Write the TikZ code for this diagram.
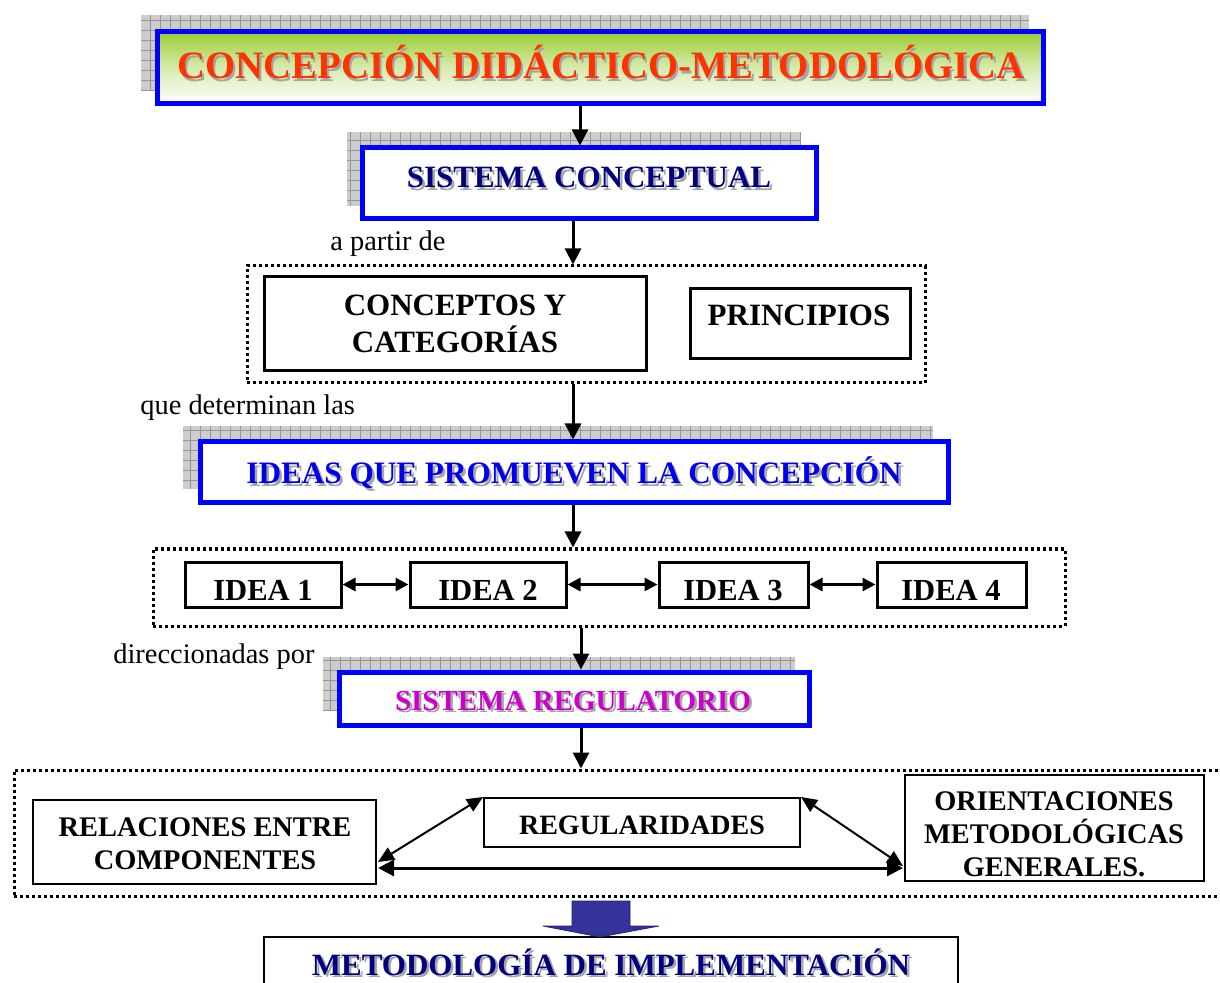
\documentclass[tikz,border=0pt]{standalone}
\usepackage{fontspec}
\setmainfont{Liberation Serif}
\usetikzlibrary{arrows.meta,calc,fit}
\definecolor{titlered}{RGB}{255,51,0}
\definecolor{titlegreen}{RGB}{154,205,50}
\definecolor{navytext}{RGB}{0,0,128}
\definecolor{ideablue}{RGB}{0,0,235}
\definecolor{regmag}{RGB}{204,0,204}
\definecolor{boxblue}{RGB}{0,0,255}
\definecolor{blockblue}{RGB}{51,51,153}
\definecolor{shadowgray}{RGB}{165,165,165}
\definecolor{gridfill}{RGB}{205,205,205}
\definecolor{gridline}{RGB}{150,150,150}
\tikzset{
  bluebox/.style={draw=boxblue, line width=2.5pt, inner sep=0pt, fill=white},
  blackbox/.style={draw=black, line width=1.5pt, inner sep=0pt, fill=white},
  thinbox/.style={draw=black, line width=1pt, inner sep=0pt, fill=white},
  dotbox/.style={draw=black, line width=1.5pt, dash pattern=on 1.5pt off 1.5pt, inner sep=0pt},
  arr/.style={line width=1.5pt, -{Triangle[length=8pt,width=8pt]}},
  darr/.style={line width=1.5pt, {Triangle[length=6.5pt,width=6.5pt]}-{Triangle[length=6.5pt,width=6.5pt]}},
  diag/.style={line width=1pt, {Triangle[length=8pt,width=7pt]}-{Triangle[length=8pt,width=7pt]}},
  hdarr/.style={line width=1.5pt, {Triangle[length=8pt,width=8pt]}-{Triangle[length=8pt,width=8pt]}},
  lbl/.style={anchor=base west, inner sep=0pt, font=\fontsize{14.2}{14.2}\selectfont},
  txt/.style={anchor=base, inner sep=0pt},
}
\newcommand\fs[1]{\fontsize{#1}{#1}\selectfont\bfseries}
\newcommand\shtext[5]{%
  \node[txt, text=shadowgray, font=#4] (#1s) at ($#2+(2.5,2.5)$) {#5};
  \node[txt, text=#3, font=#4] (#1) at #2 {#5};}
\newcommand\gshadow[4]{%
  \fill[gridfill] (#1,#2) rectangle (#3,#4);
  \begin{scope}
    \clip (#1,#2) rectangle (#3,#4);
    \foreach \gx in {0,10,...,1220} \draw[gridline, line width=0.35pt] (\gx,#2) -- (\gx,#4);
    \foreach \gy in {0,10,...,990} \draw[gridline, line width=0.35pt] (#1,\gy) -- (#3,\gy);
  \end{scope}
  \draw[white, line width=0.6pt] (#1,#2) rectangle (#3,#4);}

\begin{document}
\begin{tikzpicture}[x=0.5pt,y=-0.5pt]
\useasboundingbox (0,0) rectangle (1220,983);
\fill[white] (0,0) rectangle (1220,983);

% Title
\gshadow{140}{14}{1030}{92}
\node[bluebox, top color=titlegreen, bottom color=white, middle color=titlegreen!40, fit={(157,32) (1043,104)}] (title) {};
\shtext{tt}{(601,79)}{titlered}{\fs{19.4}}{CONCEPCIÓN DIDÁCTICO-METODOLÓGICA}

% Sistema conceptual
\gshadow{346}{131}{802}{207}
\node[bluebox, fit={(362,148) (816,219)}] (sc) {};
\shtext{sct}{(589,188)}{navytext}{\fs{15.5}}{SISTEMA CONCEPTUAL}

\node[lbl] (l1) at (330,251) {a partir de};

% Dotted box 1
\node[dotbox, fit={(247,266) (925,383)}] (d1) {};
\node[blackbox, fit={(264,277) (646,371)}] (cc) {};
\node[txt, font=\fs{15.5}] (cc1) at (455,316) {CONCEPTOS Y};
\node[txt, font=\fs{15.5}] (cc2) at (455,353) {CATEGORÍAS};
\node[blackbox, fit={(690,289) (910,359)}] (pr) {};
\node[txt, font=\fs{15.5}] (prt) at (799,326) {PRINCIPIOS};

\node[lbl] (l2) at (140,415) {que determinan las};

% Ideas
\gshadow{182}{425}{934}{490}
\node[bluebox, fit={(200,442) (948,503)}] (ideas) {};
\shtext{idt}{(574,484)}{ideablue}{\fs{15.6}}{IDEAS QUE PROMUEVEN LA CONCEPCIÓN}

% Dotted box 2
\node[dotbox, fit={(153,549) (1065,626)}] (d2) {};
\node[blackbox, fit={(185,562) (341,607)}] (i1) {};
\node[blackbox, fit={(410,562) (566,607)}] (i2) {};
\node[blackbox, fit={(659,562) (808,607)}] (i3) {};
\node[blackbox, fit={(877,562) (1026,607)}] (i4) {};
\node[txt, font=\fs{15.3}] (i1t) at (263,600) {IDEA 1};
\node[txt, font=\fs{15.3}] (i2t) at (488,600) {IDEA 2};
\node[txt, font=\fs{15.3}] (i3t) at (733,600) {IDEA 3};
\node[txt, font=\fs{15.3}] (i4t) at (951,600) {IDEA 4};
\draw[darr] (i1.east) -- (i2.west);
\draw[darr] (i2.east) -- (i3.west);
\draw[darr] (i3.east) -- (i4.west);

\node[lbl] (l3) at (113,663) {direccionadas por};

% Sistema regulatorio
\gshadow{322}{656}{796}{712}
\node[bluebox, fit={(339,672) (809,725)}] (reg) {};
\shtext{rgt}{(573,710)}{regmag}{\fs{14.5}}{SISTEMA REGULATORIO}

% Dotted box 3
\node[dotbox, fit={(14,770) (1228,896)}] (d3) {};
\node[thinbox, fit={(33,800) (376,884)}] (rel) {};
\node[txt, font=\fs{14.2}] (rel1) at (205,836) {RELACIONES ENTRE};
\node[txt, font=\fs{14.2}] (rel2) at (205,869) {COMPONENTES};
\node[thinbox, fit={(484,798) (800,847)}] (rgl) {};
\node[txt, font=\fs{14}] (rglt) at (642,834) {REGULARIDADES};
\node[thinbox, fit={(905,775) (1204,881)}] (ori) {};
\node[txt, font=\fs{14.2}] (ori1) at (1054,810) {ORIENTACIONES};
\node[txt, font=\fs{14.2}] (ori2) at (1054,843) {METODOLÓGICAS};
\node[txt, font=\fs{14.2}] (ori3) at (1054,876) {GENERALES.};
\draw[diag] ($(rel.east)+(1,20)$) -- (rgl.north west);
\draw[diag] (rgl.north east) -- ($(ori.west)+(-1,38)$);
\draw[hdarr] ($(rel.east)+(1,26)$) -- ($(ori.west)+(-1,40)$);

% Vertical arrows
\draw[arr] ($(title.south)+(-20,0)$) -- ($(sc.north)+(-9,0)$);
\draw[arr] ($(sc.south)+(-16,0)$) -- ($(d1.north)+(-13,0)$);
\draw[arr] ($(d1.south)+(-13,0)$) -- ($(ideas.north)+(-1,0)$);
\draw[arr] ($(ideas.south)+(-1,0)$) -- ($(d2.north)+(-36,0)$);
\draw[arr] ($(d2.south)+(-28,0)$) -- ($(reg.north)+(7,0)$);
\draw[arr] ($(reg.south)+(7,0)$) -- ($(d3.north)+(-40,0)$);

% Metodologia
\node[thinbox, fit={(264,937) (958,1000)}] (met) {};
\shtext{mett}{(611,975)}{navytext}{\fs{15.5}}{METODOLOGÍA DE IMPLEMENTACIÓN}

% Block arrow
\fill[blockblue, draw=blockblue!70!black, line width=0.4pt] (572,901) -- (630,901) -- (630,926) -- (659,926) -- (600,937) -- (543,926) -- (572,926) -- cycle;
\end{tikzpicture}
\end{document}
